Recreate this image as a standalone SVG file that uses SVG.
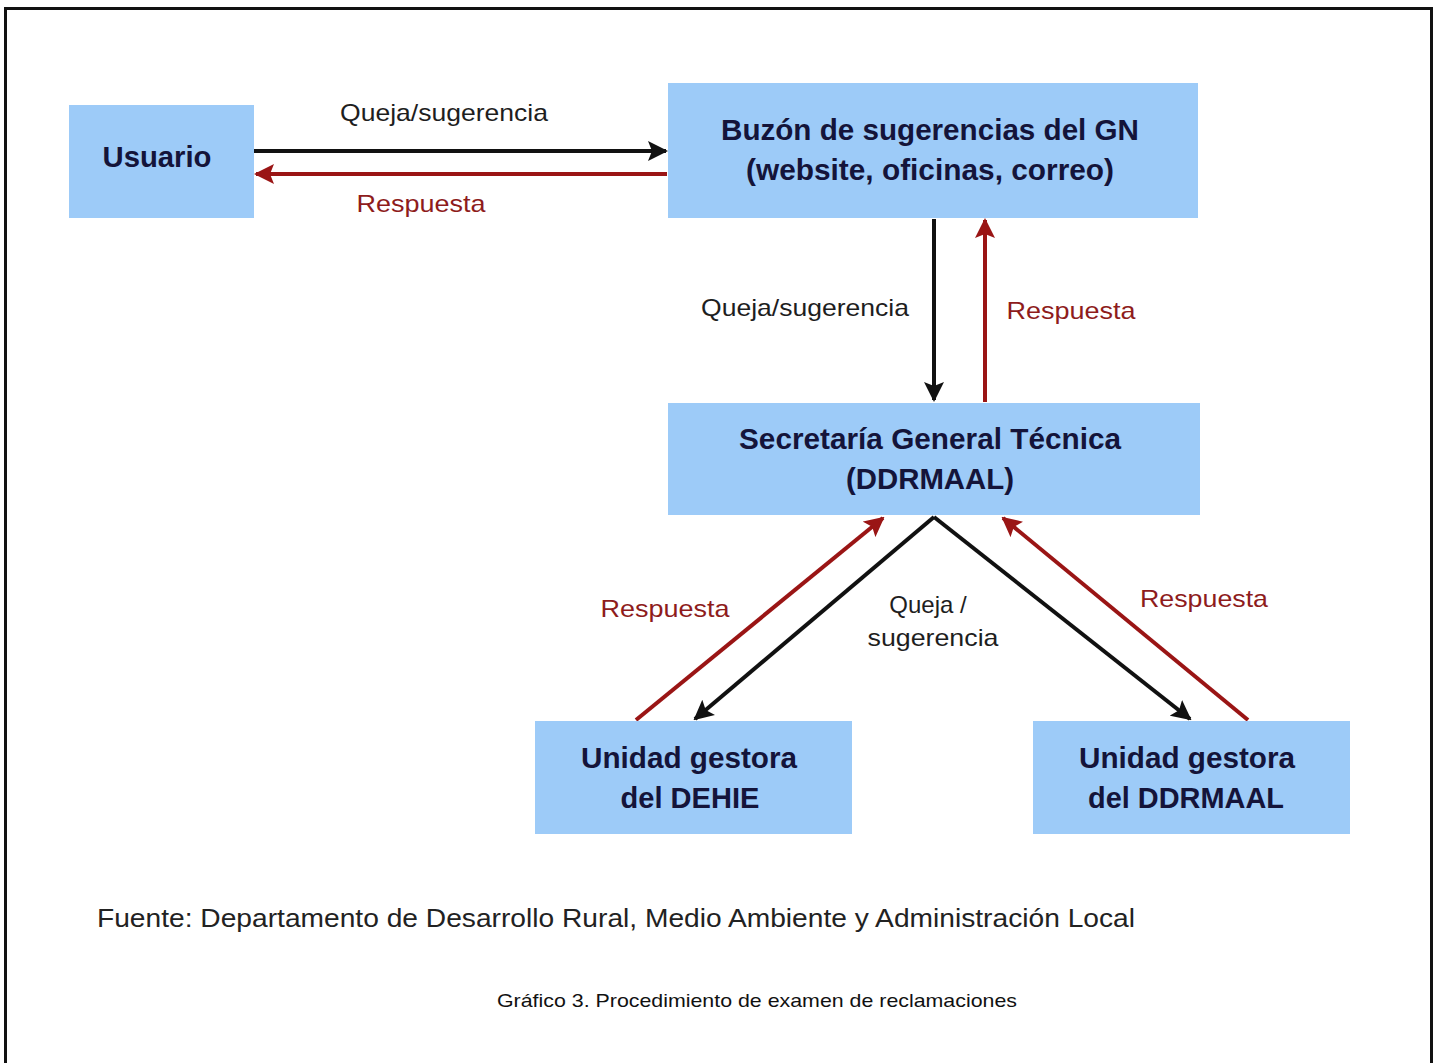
<svg xmlns="http://www.w3.org/2000/svg" width="1438" height="1063" viewBox="0 0 1438 1063">
<style>
.box{fill:#9dcbf8}
.nt{font-family:"Liberation Sans",Arial,sans-serif;font-weight:bold;font-size:29px;fill:#14143a;text-anchor:middle}
.el{font-family:"Liberation Sans",Arial,sans-serif;font-size:24px;text-anchor:middle}
.blk{fill:#1e1e1e}
.red{fill:#8e1c1c}
.ln{fill:none;stroke-width:4}
.lb{stroke:#111}
.lr{stroke:#9a1515}
</style>
<defs>
<marker id="ab" viewBox="0 0 10 10" refX="9" refY="5" markerWidth="5" markerHeight="5" orient="auto" markerUnits="strokeWidth">
<path d="M0,0 L10,5 L0,10 L2,5 z" fill="#111"/>
</marker>
<marker id="ar" viewBox="0 0 10 10" refX="9" refY="5" markerWidth="5" markerHeight="5" orient="auto" markerUnits="strokeWidth">
<path d="M0,0 L10,5 L0,10 L2,5 z" fill="#9a1515"/>
</marker>
</defs>
<rect x="0" y="0" width="1438" height="1063" fill="#ffffff"/>
<rect x="5.5" y="8.5" width="1426" height="1070" fill="none" stroke="#111" stroke-width="3"/>

<g id="connectors">
<line class="ln lb" x1="254" y1="151" x2="666" y2="151" marker-end="url(#ab)"/>
<line class="ln lr" x1="667" y1="174" x2="256" y2="174" marker-end="url(#ar)"/>
<line class="ln lb" x1="934" y1="219" x2="934" y2="400" marker-end="url(#ab)"/>
<line class="ln lr" x1="985" y1="402" x2="985" y2="220" marker-end="url(#ar)"/>
<line class="ln lb" x1="934" y1="517" x2="695" y2="719" marker-end="url(#ab)"/>
<line class="ln lb" x1="934" y1="517" x2="1190" y2="719" marker-end="url(#ab)"/>
<line class="ln lr" x1="636" y1="720" x2="883" y2="518" marker-end="url(#ar)"/>
<line class="ln lr" x1="1248" y1="720" x2="1003" y2="518" marker-end="url(#ar)"/>
<text class="el blk" x="444" y="121" textLength="208" lengthAdjust="spacingAndGlyphs">Queja/sugerencia</text>
<text class="el red" x="421" y="212" textLength="129" lengthAdjust="spacingAndGlyphs">Respuesta</text>
<text class="el blk" x="805" y="316" textLength="208" lengthAdjust="spacingAndGlyphs">Queja/sugerencia</text>
<text class="el red" x="1071" y="319" textLength="129" lengthAdjust="spacingAndGlyphs">Respuesta</text>
<text class="el red" x="665" y="617" textLength="129" lengthAdjust="spacingAndGlyphs">Respuesta</text>
<text class="el blk" x="928" y="613">Queja /</text>
<text class="el blk" x="933" y="646" textLength="131" lengthAdjust="spacingAndGlyphs">sugerencia</text>
<text class="el red" x="1204" y="607" textLength="128" lengthAdjust="spacingAndGlyphs">Respuesta</text>
</g>

<g id="usuario">
<rect class="box" x="69" y="105" width="185" height="113"/>
<text class="nt" x="157" y="167" textLength="109" lengthAdjust="spacingAndGlyphs">Usuario</text>
</g>
<g id="buzon">
<rect class="box" x="668" y="83" width="530" height="135"/>
<text class="nt" x="930" y="140" textLength="418" lengthAdjust="spacingAndGlyphs">Buzón de sugerencias del GN</text>
<text class="nt" x="930" y="180" textLength="368" lengthAdjust="spacingAndGlyphs">(website, oficinas, correo)</text>
</g>
<g id="secretaria">
<rect class="box" x="668" y="403" width="532" height="112"/>
<text class="nt" x="930" y="449" textLength="382" lengthAdjust="spacingAndGlyphs">Secretaría General Técnica</text>
<text class="nt" x="930" y="489" textLength="168" lengthAdjust="spacingAndGlyphs">(DDRMAAL)</text>
</g>
<g id="dehie">
<rect class="box" x="535" y="721" width="317" height="113"/>
<text class="nt" x="689" y="768" textLength="216" lengthAdjust="spacingAndGlyphs">Unidad gestora</text>
<text class="nt" x="690" y="808" textLength="139" lengthAdjust="spacingAndGlyphs">del DEHIE</text>
</g>
<g id="ddrmaal">
<rect class="box" x="1033" y="721" width="317" height="113"/>
<text class="nt" x="1187" y="768" textLength="216" lengthAdjust="spacingAndGlyphs">Unidad gestora</text>
<text class="nt" x="1186" y="808" textLength="196" lengthAdjust="spacingAndGlyphs">del DDRMAAL</text>
</g>

<text x="97" y="927" font-family="'Liberation Sans',Arial,sans-serif" font-size="26" fill="#222" textLength="1038" lengthAdjust="spacingAndGlyphs">Fuente: Departamento de Desarrollo Rural, Medio Ambiente y Administración Local</text>
<text x="757" y="1007" font-family="'Liberation Sans',Arial,sans-serif" font-size="19" fill="#111" text-anchor="middle" textLength="520" lengthAdjust="spacingAndGlyphs">Gráfico 3. Procedimiento de examen de reclamaciones</text>
</svg>
